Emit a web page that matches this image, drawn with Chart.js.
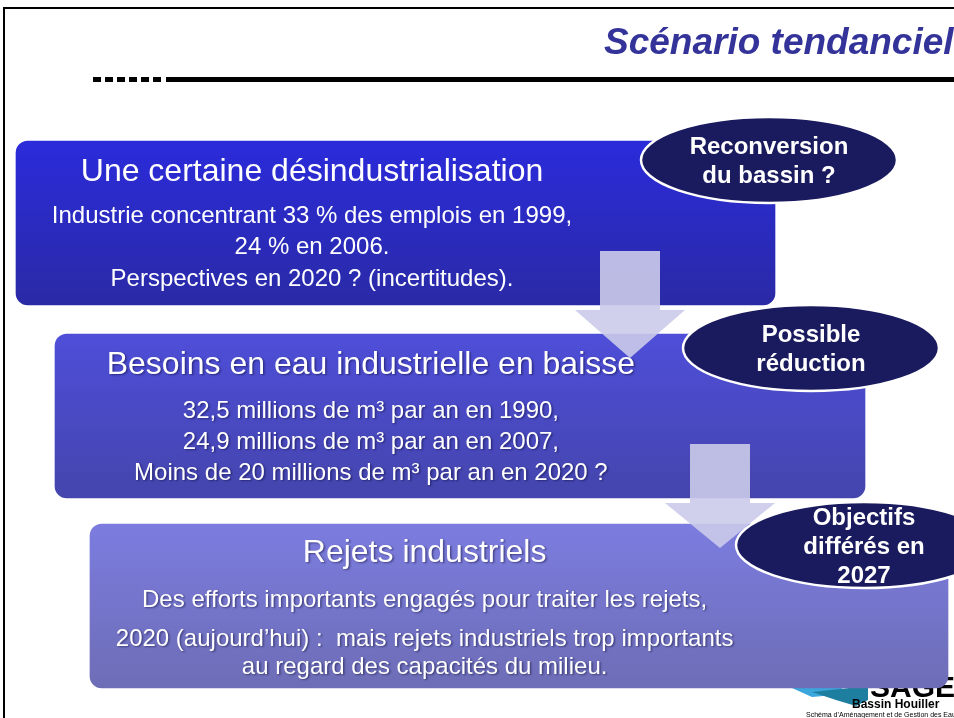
<!DOCTYPE html>
<html>
<head>
<meta charset="utf-8">
<script src="https://cdn.jsdelivr.net/npm/chart.js@4.4.0/dist/chart.umd.min.js"></script>
<style>
  html, body { margin: 0; padding: 0; background: #fff; }
  canvas { display: block; }
</style>
</head>
<body>
<canvas id="slide" width="954" height="718"></canvas>
<script>
// slide content
var slideTitle = 'Scénario tendanciel';
var steps = ['Une certaine désindustrialisation', 'Besoins en eau industrielle en baisse', 'Rejets industriels'];
var stepDetails = [
    ['Industrie concentrant 33 % des emplois en 1999,', '24 % en 2006.', 'Perspectives en 2020 ? (incertitudes).'],
    ['32,5 millions de m³ par an en 1990,', '24,9 millions de m³ par an en 2007,', 'Moins de 20 millions de m³ par an en 2020 ?'],
    ['Des efforts importants engagés pour traiter les rejets,', '2020 (aujourd\u2019hui) :  mais rejets industriels trop importants', 'au regard des capacités du milieu.']
];
// each step box on the slide axes: row (vertical) and span (horizontal)
var stepRow = [223, 416, 606];
var stepStart = [16, 55, 90];
var stepEnd = [775, 865, 948];
var notes = [['Reconversion', 'du bassin ?'], ['Possible', 'réduction'], ['Objectifs', 'différés en', '2027']];
var noteX = [769, 811, 864];
var noteY = [161, 349, 546];

// styles
var boxTop = ['#2b2bdb', '#4e4ed9', '#7c7ce0'];
var boxBottom = ['#2a2aa6', '#4545ad', '#6d6db6'];
var titleOffsets = [31, 31, 29];
var lineOffsets = [[75, 106, 138], [77, 108, 139], [76, 115, 143]];
var FONT = "'Liberation Sans', Arial, sans-serif";

var ctx = document.getElementById('slide').getContext('2d');

var decor = {
    id: 'decor',
    beforeDraw: function (chart) {
        var c = chart.ctx;
        c.save();
        c.fillStyle = '#fff';
        c.fillRect(0, 0, chart.width, chart.height);
        // slide frame
        c.strokeStyle = '#000';
        c.lineWidth = 2;
        c.strokeRect(4, 8, 1000, 800);
        // title
        c.fillStyle = '#333399';
        c.font = 'italic bold 37px ' + FONT;
        c.textBaseline = 'alphabetic';
        c.textAlign = 'left';
        c.fillText(slideTitle, 604, 54);
        // rule under title
        c.fillStyle = '#000';
        for (var i = 0; i < 6; i++) {
            c.fillRect(93 + i * 12, 77, 8, 5);
        }
        c.fillRect(166, 77, 800, 5);
        c.restore();
    },
    beforeDatasetsDraw: function (chart) {
        // logo, partly hidden under the last box
        var c = chart.ctx;
        c.save();
        c.fillStyle = '#3aa6dc';
        c.beginPath();
        c.moveTo(792, 688); c.lineTo(840, 686); c.lineTo(846, 694); c.lineTo(812, 697); c.closePath();
        c.fill();
        c.fillStyle = '#1d7ea0';
        c.beginPath();
        c.moveTo(812, 692); c.lineTo(868, 686); c.lineTo(868, 700); c.lineTo(856, 706); c.lineTo(836, 700); c.closePath();
        c.fill();
        c.fillStyle = '#000';
        c.textAlign = 'left';
        c.font = 'bold 30px ' + FONT;
        c.fillText('SAGE', 870, 697);
        c.font = 'bold 12px ' + FONT;
        c.fillText('Bassin Houiller', 852, 708);
        c.font = '7px ' + FONT;
        c.fillText('Schéma d\u2019Aménagement et de Gestion des Eaux', 806, 717);
        c.restore();
    },
    afterDatasetsDraw: function (chart) {
        var c = chart.ctx;
        var bars = chart.getDatasetMeta(0).data;
        var pts = chart.getDatasetMeta(1).data;
        c.save();

        // arrows between the steps
        c.fillStyle = 'rgba(203,203,234,0.9)';
        for (var i = 0; i < bars.length - 1; i++) {
            var b = bars[i], nb = bars[i + 1];
            var cx = b.x - 145;
            var bottom = b.y + b.height / 2;
            var tip = nb.y - nb.height / 2 + 24;
            c.fillRect(cx - 30, bottom - 54, 60, 59);
            c.beginPath();
            c.moveTo(cx - 55, bottom + 5);
            c.lineTo(cx + 55, bottom + 5);
            c.lineTo(cx, tip);
            c.closePath();
            c.fill();
        }

        // text in the boxes
        c.textAlign = 'center';
        c.textBaseline = 'middle';
        c.fillStyle = '#fff';
        bars.forEach(function (b, i) {
            var cx = b.base + 0.39 * (b.x - b.base);
            var top = b.y - b.height / 2;
            if (i > 0) {
                c.shadowColor = 'rgba(0,0,40,0.45)';
                c.shadowOffsetX = 1.5;
                c.shadowOffsetY = 1.5;
                c.shadowBlur = 2;
            }
            c.font = '32px ' + FONT;
            c.fillText(steps[i], cx, top + titleOffsets[i]);
            c.font = '24px ' + FONT;
            stepDetails[i].forEach(function (line, j) {
                c.fillText(line, cx, top + lineOffsets[i][j]);
            });
            c.shadowColor = 'transparent';
        });

        // note ellipses
        pts.forEach(function (p, i) {
            c.beginPath();
            c.ellipse(p.x, p.y - 1, 128, 43, 0, 0, Math.PI * 2);
            c.fillStyle = '#1a1a5e';
            c.fill();
            c.lineWidth = 2.5;
            c.strokeStyle = '#fff';
            c.stroke();
            c.fillStyle = '#fff';
            c.font = 'bold 24px ' + FONT;
            var n = notes[i].length;
            notes[i].forEach(function (line, j) {
                c.fillText(line, p.x, p.y + 1 + (j - (n - 1) / 2) * 29);
            });
        });
        c.restore();
    }
};

var chart = new Chart(ctx, {
    type: 'bar',
    data: {
        datasets: [{
            label: 'Étapes',
            data: steps.map(function (s, i) { return { y: stepRow[i], x: [stepStart[i], stepEnd[i]] }; }),
            backgroundColor: function (context) {
                var ch = context.chart;
                var i = context.dataIndex;
                if (!ch.chartArea || context.type !== 'data') return boxTop[i];
                var y = ch.scales.y.getPixelForValue(stepRow[i]);
                var g = ch.ctx.createLinearGradient(0, y - 82, 0, y + 82);
                g.addColorStop(0, boxTop[i]);
                g.addColorStop(1, boxBottom[i]);
                return g;
            },
            borderRadius: 12,
            borderSkipped: false,
            barThickness: 164,
            clip: false
        }, {
            type: 'scatter',
            label: 'Remarques',
            data: notes.map(function (n, i) { return { x: noteX[i], y: noteY[i] }; }),
            pointRadius: 0,
            pointHoverRadius: 0,
            clip: false
        }]
    },
    options: {
        indexAxis: 'y',
        responsive: false,
        animation: false,
        layout: { padding: 0, autoPadding: false },
        scales: {
            x: { type: 'linear', min: 0, max: 954, offset: false, display: false },
            y: { type: 'linear', min: 0, max: 718, reverse: true, offset: false, display: false }
        },
        plugins: {
            legend: { display: false },
            tooltip: { enabled: false }
        }
    },
    plugins: [decor]
});
</script>
</body>
</html>
